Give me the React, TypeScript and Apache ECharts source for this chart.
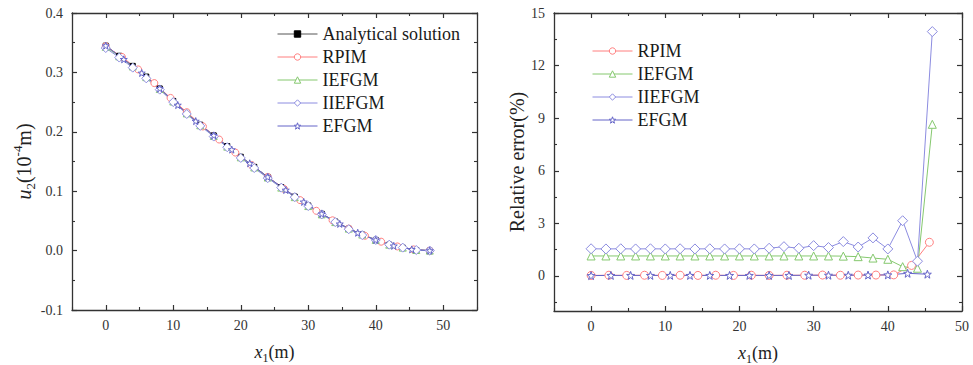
import React, { useEffect, useRef } from "react";
import * as echarts from "echarts";

// ---------- Data ----------
// Left chart: displacement u2 (10^-4 m) along x1 (m)
const xStep2 = [0, 2, 4, 6, 8, 10, 12, 14, 16, 18, 20, 22, 24, 26, 28, 30, 32, 34, 36, 38, 40, 42, 44, 46, 48];
const analyticalU = [0.345, 0.328, 0.311, 0.293, 0.273, 0.252, 0.232, 0.212, 0.194, 0.176, 0.158, 0.141, 0.124, 0.107, 0.091, 0.076, 0.062, 0.049, 0.037, 0.027, 0.018, 0.010, 0.005, 0.001, 0.000];
const xRPIM = [0, 2.4, 4.8, 7.2, 9.6, 12, 14.4, 16.8, 19.2, 21.6, 24, 26.4, 28.8, 31.2, 33.6, 36, 38.4, 40.8, 43.2, 45.6, 48];
const rpimU = [0.344, 0.326, 0.305, 0.282, 0.257, 0.233, 0.209, 0.187, 0.165, 0.144, 0.124, 0.104, 0.085, 0.067, 0.051, 0.037, 0.025, 0.015, 0.007, 0.002, 0.000];
const iefgmU = [0.343, 0.327, 0.310, 0.292, 0.272, 0.251, 0.231, 0.211, 0.193, 0.175, 0.157, 0.140, 0.123, 0.106, 0.090, 0.075, 0.061, 0.048, 0.037, 0.027, 0.018, 0.010, 0.005, 0.001, 0.000];
const iiefgmU = [0.341, 0.325, 0.308, 0.290, 0.271, 0.250, 0.230, 0.210, 0.192, 0.174, 0.156, 0.139, 0.122, 0.106, 0.090, 0.075, 0.061, 0.048, 0.036, 0.026, 0.018, 0.010, 0.005, 0.001, 0.000];
const xEFGM = [0, 2.67, 5.33, 8, 10.67, 13.33, 16, 18.67, 21.33, 24, 26.67, 29.33, 32, 34.67, 37.33, 40, 42.67, 45.33, 48];
const efgmU = [0.345, 0.322, 0.299, 0.273, 0.245, 0.218, 0.194, 0.170, 0.147, 0.124, 0.102, 0.082, 0.062, 0.045, 0.030, 0.018, 0.008, 0.002, 0.000];

// Right chart: relative error (%)
const xErrStep2 = [0, 2, 4, 6, 8, 10, 12, 14, 16, 18, 20, 22, 24, 26, 28, 30, 32, 34, 36, 38, 40, 42, 44, 46];
const xErrRPIM = [0, 2.4, 4.8, 7.2, 9.6, 12, 14.4, 16.8, 19.2, 21.6, 24, 26.4, 28.8, 31.2, 33.6, 36, 38.4, 40.8, 43.2, 45.6];
const rpimErr = [0.03, 0.04, 0.03, 0.04, 0.03, 0.04, 0.03, 0.04, 0.03, 0.04, 0.03, 0.04, 0.04, 0.05, 0.04, 0.05, 0.05, 0.06, 0.6, 1.92];
const iefgmErr = [1.14, 1.14, 1.14, 1.14, 1.14, 1.14, 1.14, 1.14, 1.14, 1.14, 1.14, 1.14, 1.14, 1.14, 1.14, 1.14, 1.14, 1.13, 1.1, 1.02, 0.95, 0.53, 0.44, 8.65];
const iiefgmErr = [1.55, 1.54, 1.55, 1.54, 1.55, 1.54, 1.55, 1.54, 1.55, 1.54, 1.55, 1.54, 1.58, 1.67, 1.58, 1.73, 1.62, 1.96, 1.65, 2.17, 1.54, 3.15, 0.84, 13.94];
const xErrEFGM = [0, 2.67, 5.33, 8, 10.67, 13.33, 16, 18.67, 21.33, 24, 26.67, 29.33, 32, 34.67, 37.33, 40, 42.67, 45.33];
const efgmErr = [0.02, 0.03, 0.03, 0.03, 0.03, 0.03, 0.03, 0.03, 0.03, 0.03, 0.03, 0.04, 0.04, 0.04, 0.05, 0.06, 0.15, 0.1];

// Axis ticks
const leftXMajor = [0, 10, 20, 30, 40, 50];
const leftXMinor = [-5, 5, 15, 25, 35, 45, 55];
const leftYMajor = [-0.1, 0, 0.1, 0.2, 0.3, 0.4];
const leftYMinor = [-0.05, 0.05, 0.15, 0.25, 0.35];
const rightXMajor = [0, 10, 20, 30, 40, 50];
const rightXMinor = [-5, 5, 15, 25, 35, 45];
const rightYMajor = [0, 3, 6, 9, 12, 15];
const rightYMinor = [-1.5, 1.5, 4.5, 7.5, 10.5, 13.5];

const LEGEND_LEFT = ["Analytical solution", "RPIM", "IEFGM", "IIEFGM", "EFGM"];
const LEGEND_RIGHT = ["RPIM", "IEFGM", "IIEFGM", "EFGM"];

// ---------- Styles ----------
const FONT = "'Liberation Serif', 'Times New Roman', serif";
const AXIS_COLOR = "#333";
const TEXT_COLOR = "#333";
const C_ANALYTIC = "#555555";
const C_RPIM = "#ff7f7f";
const C_IEFGM = "#85c86e";
const C_IIEFGM = "#8c8ce0";
const C_EFGM = "#6464c8";
const STAR =
  "path://M10,0 L12.35,6.76 L19.51,6.91 L13.8,11.24 L15.88,18.09 L10,14 L4.12,18.09 L6.2,11.24 L0.49,6.91 L7.65,6.76 Z";

const SERIES_STYLE: Record<string, { color: string; filled: boolean }> = {
  "Analytical solution": { color: C_ANALYTIC, filled: true },
  RPIM: { color: C_RPIM, filled: false },
  IEFGM: { color: C_IEFGM, filled: false },
  IIEFGM: { color: C_IIEFGM, filled: false },
  EFGM: { color: C_EFGM, filled: false },
};

function zip(xs: number[], ys: number[]) {
  return ys.map((y, i) => [xs[i], y]);
}

function legendItems(names: string[]) {
  return names.map((name) => {
    const s = SERIES_STYLE[name];
    return {
      name,
      itemStyle: s.filled
        ? { color: "#000", borderColor: "#000", borderWidth: 1 }
        : { color: "#fff", borderColor: s.color, borderWidth: 1 },
      lineStyle: { color: s.color, width: 1 },
    };
  });
}

function axisGroup(
  dim: "x" | "y",
  gridIndex: number,
  min: number,
  max: number,
  majors: number[],
  minors: number[],
  fmt: (v: number) => string,
  name: string,
  nameGap: number,
  nameRich: any,
  nameSize: number
) {
  const primaryPos = dim === "x" ? "bottom" : "left";
  const secondaryPos = dim === "x" ? "top" : "right";
  const base = {
    type: "value",
    gridIndex,
    min,
    max,
    splitLine: { show: false },
    axisLine: { onZero: false, show: true, lineStyle: { color: AXIS_COLOR, width: 1.3 } },
  };
  const major = (pos: string, labels: boolean) => ({
    ...base,
    position: pos,
    axisTick: { show: true, inside: true, length: 5, customValues: majors, lineStyle: { color: AXIS_COLOR, width: 1.2 } },
    axisLabel: labels
      ? {
          show: true,
          customValues: majors,
          formatter: (v: number) => fmt(v),
          fontFamily: FONT,
          fontSize: 14,
          color: TEXT_COLOR,
          margin: dim === "x" ? 8 : 9,
        }
      : { show: false },
    ...(labels
      ? {
          name,
          nameLocation: "middle",
          nameGap,
          nameTextStyle: { fontFamily: FONT, fontSize: nameSize, color: "#222", rich: nameRich },
        }
      : {}),
  });
  const minor = (pos: string) => ({
    ...base,
    position: pos,
    axisLine: { onZero: false, show: false },
    axisTick: { show: true, inside: true, length: 3, customValues: minors, lineStyle: { color: AXIS_COLOR, width: 1.1 } },
    axisLabel: { show: false },
  });
  return [major(primaryPos, true), minor(primaryPos), major(secondaryPos, false), minor(secondaryPos)];
}

function richFor(size: number, small: number) {
  const lh = size + 6;
  return {
    i: { fontFamily: FONT, fontSize: size, fontStyle: "italic", color: "#222", lineHeight: lh },
    n: { fontFamily: FONT, fontSize: size, color: "#222", lineHeight: lh },
    sub: { fontFamily: FONT, fontSize: small, color: "#222", verticalAlign: "bottom", lineHeight: small },
    sup: { fontFamily: FONT, fontSize: small, color: "#222", verticalAlign: "top", lineHeight: small },
  };
}

function lineSeries(
  name: string,
  xi: number,
  yi: number,
  data: number[][],
  symbol: string,
  size: number
) {
  const s = SERIES_STYLE[name];
  return {
    type: "line",
    name,
    xAxisIndex: xi,
    yAxisIndex: yi,
    data,
    symbol,
    symbolSize: size,
    showAllSymbol: true,
    lineStyle: { color: s.color, width: 1 },
    itemStyle: s.filled
      ? { color: "#000", borderColor: "#000", borderWidth: 1 }
      : { color: "#fff", borderColor: s.color, borderWidth: 1 },
    emphasis: { disabled: true },
  };
}

export default function App() {
  const ref = useRef<HTMLDivElement>(null);
  useEffect(() => {
    document.body.style.margin = "0";
    if (!ref.current) return;
    const chart = echarts.init(ref.current, undefined, { renderer: "svg" });

    const fmt1 = (v: number) => v.toFixed(1);
    const fmt0 = (v: number) => String(Math.round(v));

    const leftX = axisGroup("x", 0, -5, 55, leftXMajor, leftXMinor, fmt0, "{i|x}{sub|1}{n|(m)}", 30, richFor(18, 12), 18);
    const rightX = axisGroup("x", 1, -5, 50, rightXMajor, rightXMinor, fmt0, "{i|x}{sub|1}{n|(m)}", 30, richFor(18, 12), 18);
    const leftY = axisGroup("y", 0, -0.1, 0.4, leftYMajor, leftYMinor, fmt1, "{i|u}{sub|2}{n|(10}{sup|-4}{n|m)}", 29, richFor(20, 13), 20);
    const rightY = axisGroup("y", 1, -2, 15, rightYMajor, rightYMinor, fmt0, "Relative error(%)", 22, undefined, 20);

    const legendBase = {
      orient: "vertical",
      itemWidth: 40,
      itemHeight: 8,
      itemGap: 5,
      selectedMode: false,
      textStyle: { fontFamily: FONT, fontSize: 18, color: "#1a1a1a" },
    };

    const option: any = {
      animation: false,
      backgroundColor: "#fff",
      textStyle: { fontFamily: FONT },
      grid: [
        { left: 72, top: 13, width: 405, height: 297, containLabel: false, outerBoundsMode: "none" },
        { left: 554, top: 13, width: 408, height: 298, containLabel: false, outerBoundsMode: "none" },
      ],
      xAxis: [...leftX, ...rightX],
      yAxis: [...leftY, ...rightY],
      legend: [
        { ...legendBase, data: legendItems(LEGEND_LEFT), left: 272, top: 20 },
        { ...legendBase, data: legendItems(LEGEND_RIGHT), left: 587, top: 37 },
      ],
      series: [
        // left chart (x axis 0, y axis 0)
        lineSeries("Analytical solution", 0, 0, zip(xStep2, analyticalU), "rect", 5),
        lineSeries("RPIM", 0, 0, zip(xRPIM, rpimU), "circle", 7),
        lineSeries("IEFGM", 0, 0, zip(xStep2, iefgmU), "triangle", 7),
        lineSeries("IIEFGM", 0, 0, zip(xStep2, iiefgmU), "diamond", 9),
        lineSeries("EFGM", 0, 0, zip(xEFGM, efgmU), STAR, 7),
        // right chart (x axis 4, y axis 4)
        lineSeries("RPIM", 4, 4, zip(xErrRPIM, rpimErr), "circle", 8),
        lineSeries("IEFGM", 4, 4, zip(xErrStep2, iefgmErr), "triangle", 8),
        lineSeries("IIEFGM", 4, 4, zip(xErrStep2, iiefgmErr), "diamond", 10),
        lineSeries("EFGM", 4, 4, zip(xErrEFGM, efgmErr), STAR, 8),
      ],
    };
    chart.setOption(option);
    return () => chart.dispose();
  }, []);
  return <div ref={ref} style={{ width: 973, height: 365 }} />;
}
